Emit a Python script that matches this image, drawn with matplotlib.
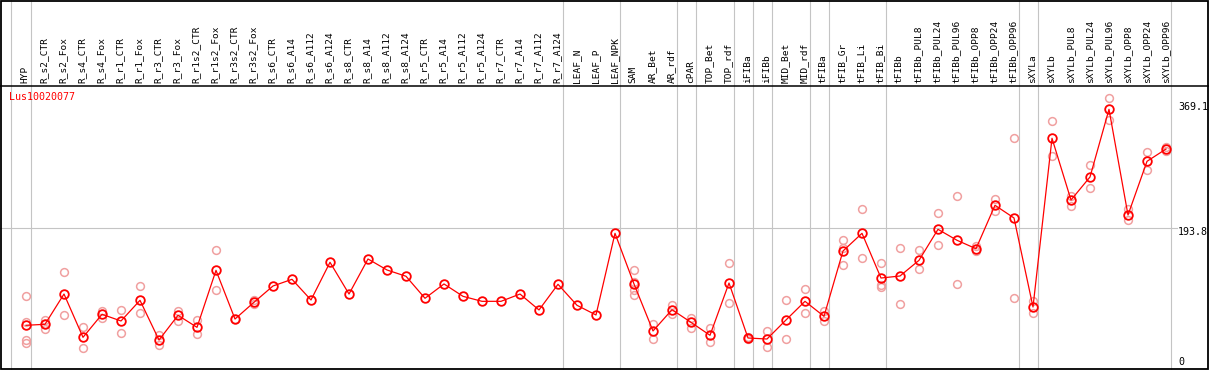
import matplotlib
matplotlib.use("Agg")
import matplotlib.pyplot as plt
from matplotlib.patches import Rectangle
from matplotlib.lines import Line2D

# ---------------- data ----------------
gene = "Lus10020077"
labels = ["HYP", "R_s2_CTR", "R_s2_Fox", "R_s4_CTR", "R_s4_Fox", "R_r1_CTR", "R_r1_Fox",
          "R_r3_CTR", "R_r3_Fox", "R_r1s2_CTR", "R_r1s2_Fox", "R_r3s2_CTR", "R_r3s2_Fox",
          "R_s6_CTR", "R_s6_A14", "R_s6_A112", "R_s6_A124", "R_s8_CTR", "R_s8_A14",
          "R_s8_A112", "R_s8_A124", "R_r5_CTR", "R_r5_A14", "R_r5_A112", "R_r5_A124",
          "R_r7_CTR", "R_r7_A14", "R_r7_A112", "R_r7_A124", "LEAF_N", "LEAF_P", "LEAF_NPK",
          "SAM", "AR_Bet", "AR_rdf", "cPAR", "TOP_Bet", "TOP_rdf", "iFIBa", "iFIBb",
          "MID_Bet", "MID_rdf", "tFIBa", "tFIB_Gr", "tFIB_Li", "tFIB_Bi", "tFIBb",
          "tFIBb_PUL8", "tFIBb_PUL24", "tFIBb_PUL96", "tFIBb_OPP8", "tFIBb_OPP24",
          "tFIBb_OPP96", "sXYLa", "sXYLb", "sXYLb_PUL8", "sXYLb_PUL24", "sXYLb_PUL96",
          "sXYLb_OPP8", "sXYLb_OPP24", "sXYLb_OPP96"]
means = [49.3, 50.8, 95.6, 31.5, 65.6, 55.7, 86.3, 27.5, 64.1, 46.3, 130.7, 58.6, 83.4,
         107.5, 117.4, 86.8, 142.6, 95.6, 147.5, 131.2, 121.9, 89.3, 110.5, 92.2, 84.8,
         84.8, 95.6, 72.0, 110.0, 78.9, 64.6, 185.5, 110.5, 40.9, 72.4, 53.7, 34.5,
         111.9, 30.5, 29.0, 57.2, 84.8, 62.6, 159.3, 185.5, 119.3, 122.3, 145.5, 191.4,
         175.2, 162.7, 227.0, 208.2, 76.4, 326.2, 234.8, 268.9, 369.1, 212.6, 292.1, 310.3]
replicates = [
    [92.2, 53.7, 28.0, 23.1], [57.2, 51.2, 43.8], [127.8, 64.1], [46.3, 15.3],
    [70.9, 60.6], [71.5, 37.5], [107.0, 67.1], [34.9, 20.1], [70.9, 55.7],
    [57.2, 36.0], [160.3, 101.1], [58.6], [87.2, 80.4],
    [], [], [], [], [], [], [], [], [], [], [], [], [], [], [], [], [], [], [],
    [130.7, 113.9, 101.6, 93.7], [50.8, 28.6], [79.8, 66.0], [60.6, 45.8],
    [45.8, 24.1], [141.5, 82.3], [31.5, 29.5], [40.9, 17.6], [86.8, 29.0],
    [102.6, 67.1], [70.5, 55.0], [175.2, 164.2, 138.1], [148.9, 222.1],
    [141.5, 108.5, 106.5], [163.3, 80.8], [160.3, 132.2], [215.1, 167.8],
    [240.3, 110.0], [167.2, 159.8], [236.3, 219.0], [326.2, 89.3], [85.7, 67.0],
    [352.2, 299.5], [241.2, 226.4], [286.2, 252.1], [385.4, 352.8], [221.1, 204.8],
    [305.9, 278.8], [313.0, 307.5]]
# columns (1-based) after which a grey separator is drawn
group_ends = [0, 1, 29, 32, 35, 36, 38, 39, 40, 42, 43, 46, 53, 54, 61]
ytick_vals = [0, 193.8, 369.1]
ytick_labels = ["0", "193.8", "369.1"]

assert len(labels) == len(means) == len(replicates)

# ---------------- layout (pixels) ----------------
W, H = 1209, 370
X0, DX = 26.0, 19.0          # pixel x of first column, column spacing
Y0PX, PXU = 358.6, 0.6754    # pixel y of value 0, pixels per unit
HEADER_Y = 85.5

fig = plt.figure(figsize=(W / 100, H / 100), dpi=100)
fig.patch.set_facecolor("white")
ax = fig.add_axes([0, 0, 1, 1])
ax.set_axis_off()
ax.set_xlim((0 - X0) / DX, (W - X0) / DX)
ax.set_ylim((Y0PX - H) / PXU, Y0PX / PXU)

def fx(px):
    return px / W

def fy(py):
    return 1 - py / H

mono = "DejaVu Sans Mono"
grey = "#c4c4c4"

# grey vertical separators
for b in group_ends:
    pos = b - 1 + 0.25 if b > 0 else -0.8
    ax.axvline(pos, color=grey, lw=0.8, zorder=1)
# grey horizontal line at middle tick
ax.axhline(ytick_vals[1], xmin=0, xmax=fx(1177), color=grey, lw=0.8, zorder=1)

# frame & header separator
fig.add_artist(Line2D([fx(0), fx(W)], [fy(HEADER_Y), fy(HEADER_Y)], color="black", lw=1.1))
fig.add_artist(Rectangle((fx(0.8), fy(368.6)), fx(1207.5) - fx(0.8), fy(0.6) - fy(368.6),
                         fill=False, edgecolor="black", lw=1.3))

# column labels
for i, lab in enumerate(labels):
    ax.text(i - 0.04, (Y0PX - 83) / PXU, lab, rotation=90, ha="center", va="bottom",
            fontsize=6.8, family=mono, color="black")

# replicate points
rx, ry = [], []
for i, reps in enumerate(replicates):
    for v in reps:
        rx.append(i)
        ry.append(v)
ax.plot(rx, ry, ls="none", marker="o", ms=5.6, mfc="none", mec="#f0a0a0", mew=1.1, zorder=2)

# mean line
xs = list(range(len(means)))
ax.plot(xs, means, color="#ff0000", lw=0.9, zorder=3)
ax.plot(xs, means, ls="none", marker="o", ms=6.2, mfc="none", mec="#ff0000", mew=1.3, zorder=4)

# gene name
fig.text(fx(9.3), fy(97.5), gene, color="#ff0000", fontsize=7.2, family=mono,
         ha="left", va="center")

# right-side value labels
offsets = {"0": 3.0, "193.8": 4.3, "369.1": -2.6}
for v, t in zip(ytick_vals, ytick_labels):
    ypx = Y0PX - v * PXU + offsets[t]
    fig.text(fx(1178), fy(ypx), t, fontsize=7.2, family=mono, ha="left", va="center",
             color="black")

fig.savefig("out.png", dpi=100, facecolor="white")
